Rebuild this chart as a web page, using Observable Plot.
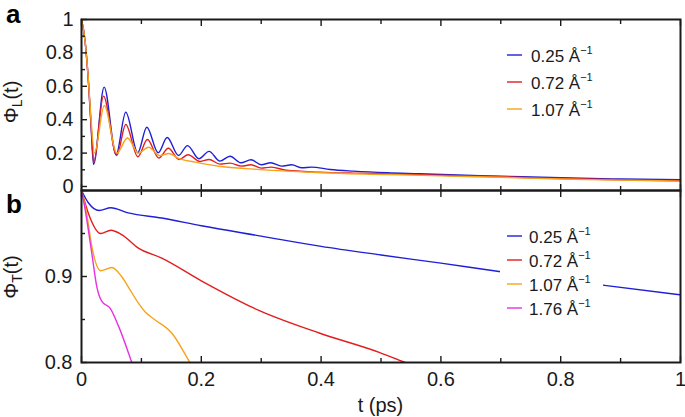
<!DOCTYPE html>
<html>
<head>
<meta charset="utf-8">
<script src="https://cdn.jsdelivr.net/npm/d3@7"></script>
<script src="https://cdn.jsdelivr.net/npm/@observablehq/plot@0.6"></script>
<style>
  body { margin: 0; background: #fff; }
  #wrap { position: relative; width: 685px; height: 417px; overflow: hidden; font-family: "Liberation Sans", Arial, sans-serif; }
  #wrap > .panel { position: absolute; left: 0; }
  #overlay { position: absolute; left: 0; top: 0; pointer-events: none; }
</style>
</head>
<body>
<div id="wrap"></div>
<script>
// ---------- data ----------
const qLabels = ["0.25", "0.72", "1.07", "1.76"];
const qColors = ["#1f1fd8", "#e31d1d", "#f7a21b", "#e632e0"];

// Panel a : longitudinal correlation Φ_L(t)  [t (ps), value]
const longQ025 = [[0,1],[0.006,0.87],[0.0117,0.62],[0.016,0.36],[0.020,0.132],[0.0378,0.595],[0.0578,0.19],[0.0739,0.445],[0.0939,0.202],[0.109,0.355],[0.128,0.202],[0.143,0.293],[0.162,0.186],[0.177,0.245],[0.196,0.166],[0.213,0.21],[0.231,0.152],[0.248,0.181],[0.266,0.142],[0.283,0.16],[0.300,0.13],[0.316,0.142],[0.334,0.122],[0.351,0.13],[0.368,0.112],[0.384,0.116],[0.415,0.102],[0.454,0.092],[0.51,0.082],[0.565,0.076],[0.615,0.07],[0.7,0.062],[0.8,0.052],[0.9,0.045],[1.0,0.04]];
const longQ072 = [[0,1],[0.006,0.87],[0.0117,0.62],[0.016,0.37],[0.0205,0.145],[0.0367,0.541],[0.0589,0.186],[0.0739,0.371],[0.094,0.178],[0.110,0.281],[0.129,0.170],[0.145,0.229],[0.163,0.162],[0.178,0.19],[0.198,0.15],[0.213,0.162],[0.231,0.134],[0.248,0.14],[0.267,0.122],[0.283,0.13],[0.300,0.11],[0.317,0.116],[0.342,0.097],[0.398,0.086],[0.454,0.08],[0.51,0.076],[0.615,0.066],[0.7,0.058],[0.8,0.048],[0.9,0.04],[1.0,0.034]];
const longQ107 = [[0,1],[0.006,0.87],[0.0117,0.63],[0.016,0.4],[0.0217,0.2],[0.038,0.485],[0.059,0.2],[0.0767,0.29],[0.095,0.2],[0.112,0.235],[0.131,0.185],[0.146,0.198],[0.162,0.168],[0.19,0.146],[0.232,0.12],[0.288,0.104],[0.344,0.092],[0.4,0.082],[0.51,0.072],[0.615,0.062],[0.7,0.055],[0.8,0.045],[0.9,0.038],[1.0,0.032]];

// Panel b : transverse correlation Φ_T(t)
const transQ025 = [[0,1],[0.0117,0.9855],[0.0294,0.9767],[0.0489,0.980],[0.078,0.974],[0.134,0.968],[0.2,0.959],[0.3,0.947],[0.4,0.935],[0.5,0.925],[0.6,0.9155],[0.7,0.9055],[0.87,0.89],[1.0,0.8787]];
const transQ072 = [[0,1],[0.0117,0.973],[0.032,0.950],[0.049,0.9537],[0.067,0.9487],[0.095,0.933],[0.134,0.9214],[0.2,0.895],[0.298,0.86],[0.398,0.834],[0.498,0.8115],[0.54,0.80],[0.56,0.795]];
const transQ107 = [[0,1],[0.0089,0.972],[0.0172,0.935],[0.032,0.9067],[0.0506,0.9105],[0.067,0.900],[0.078,0.888],[0.095,0.869],[0.106,0.859],[0.123,0.8495],[0.151,0.834],[0.181,0.80],[0.19,0.79]];
const transQ176 = [[0,1],[0.005,0.982],[0.0172,0.927],[0.0256,0.888],[0.034,0.871],[0.048,0.863],[0.062,0.842],[0.084,0.80],[0.09,0.788]];

// axis ticks
const tMajor = [0, 0.2, 0.4, 0.6, 0.8, 1];
const tMinor = [0.1, 0.3, 0.5, 0.7, 0.9];
const yMajorA = [0, 0.2, 0.4, 0.6, 0.8, 1];
const yMinorA = [0.1, 0.3, 0.5, 0.7, 0.9];
const yMajorB = [0.8, 0.9, 1.0];
const yLabelsB = [0.8, 0.9];
const yMinorB = [0.85, 0.95];

// ---------- build ----------
const toRows = (arr, q) => arr.map(([t, v]) => ({t, v, q}));
const rowsA = [...toRows(longQ025, "0.25"), ...toRows(longQ072, "0.72"), ...toRows(longQ107, "1.07")];
const rowsB = [...toRows(transQ025, "0.25"), ...toRows(transQ072, "0.72"), ...toRows(transQ107, "1.07"), ...toRows(transQ176, "1.76")];

const FONT = "Liberation Sans, Arial, Helvetica, sans-serif";
const INK = "#1a1a1a";
const FS = 20;
const fmt = d3.format("~g");
const common = {
  width: 685, marginLeft: 81, marginRight: 5,
  style: {fontFamily: FONT, fontSize: FS + "px", color: INK, background: "transparent", overflow: "visible"},
  x: {domain: [0, 1], label: null},
  color: {domain: qLabels, range: qColors}
};
const tickStyle = {stroke: INK, strokeWidth: 1.4, text: null, label: null};

const plotA = Plot.plot({
  ...common,
  height: 191, marginTop: 19, marginBottom: 1,
  y: {domain: [-0.024, 1], label: null},
  marks: [
    Plot.line(rowsA, {x: "t", y: "v", z: "q", stroke: "q", curve: "monotone-x", strokeWidth: 1.4}),
    Plot.axisY(yMajorA, {anchor: "left", tickSize: 0, tickPadding: 8, tickFormat: fmt, label: null, fontSize: FS}),
    Plot.axisY(yMajorA, {anchor: "left", tickSize: -6, ...tickStyle}),
    Plot.axisY(yMinorA, {anchor: "left", tickSize: -4, ...tickStyle}),
    Plot.axisX(tMajor, {anchor: "top", tickSize: -6, ...tickStyle}),
    Plot.axisX(tMinor, {anchor: "top", tickSize: -4, ...tickStyle}),
    Plot.axisX(tMajor, {anchor: "bottom", tickSize: -6, ...tickStyle}),
    Plot.axisX(tMinor, {anchor: "bottom", tickSize: -4, ...tickStyle}),
    Plot.frame({stroke: INK, strokeWidth: 2})
  ]
});

const plotB = Plot.plot({
  ...common,
  height: 228, marginTop: 1, marginBottom: 55,
  y: {domain: [0.8, 1.0], label: null},
  marks: [
    Plot.line(rowsB, {x: "t", y: "v", z: "q", stroke: "q", curve: "monotone-x", strokeWidth: 1.4, clip: true}),
    Plot.axisY(yLabelsB, {anchor: "left", tickSize: 0, tickPadding: 9, tickFormat: fmt, label: null, fontSize: FS}),
    Plot.axisY(yMajorB, {anchor: "left", tickSize: -6, ...tickStyle}),
    Plot.axisY(yMinorB, {anchor: "left", tickSize: -4, ...tickStyle}),
    Plot.axisX(tMajor, {anchor: "top", tickSize: -6, ...tickStyle}),
    Plot.axisX(tMinor, {anchor: "top", tickSize: -4, ...tickStyle}),
    Plot.axisX(tMajor, {anchor: "bottom", tickSize: -6, ...tickStyle}),
    Plot.axisX(tMinor, {anchor: "bottom", tickSize: -4, ...tickStyle}),
    Plot.axisX(tMajor, {anchor: "bottom", tickSize: 0, tickPadding: 9, tickFormat: fmt, label: null, fontSize: FS}),
    Plot.frame({stroke: INK, strokeWidth: 2})
  ]
});

const wrap = document.getElementById("wrap");
plotA.classList.add("panel"); plotA.style.top = "0px";
plotB.classList.add("panel"); plotB.style.top = "189px";
wrap.appendChild(plotA);
wrap.appendChild(plotB);

// ---------- overlay: panel letters, axis titles, legends ----------
const NS = "http://www.w3.org/2000/svg";
const ov = document.createElementNS(NS, "svg");
ov.setAttribute("id", "overlay");
ov.setAttribute("width", 685);
ov.setAttribute("height", 417);
ov.style.fontFamily = FONT;
wrap.appendChild(ov);

function el(tag, attrs, parent = ov) {
  const e = document.createElementNS(NS, tag);
  for (const k in attrs) e.setAttribute(k, attrs[k]);
  parent.appendChild(e);
  return e;
}
function txt(attrs, s, parent = ov) { const e = el("text", attrs, parent); e.textContent = s; return e; }

txt({x: 6, y: 23, "font-size": 26, "font-weight": "bold", fill: "#000"}, "a");
txt({x: 6, y: 213, "font-size": 26, "font-weight": "bold", fill: "#000"}, "b");

function yTitle(cy, sub) {
  const t = el("text", {transform: `translate(18,${cy}) rotate(-90)`, "text-anchor": "middle", "font-size": FS, fill: INK});
  const a = el("tspan", {}, t); a.textContent = "Φ";
  const b = el("tspan", {"font-size": 14, dy: 4}, t); b.textContent = sub;
  const c = el("tspan", {dy: -4}, t); c.textContent = "(t)";
}
yTitle(102, "L");
yTitle(277, "T");
txt({x: 380.5, y: 412, "text-anchor": "middle", "font-size": FS, fill: INK}, "t (ps)");

function legend(rows, lineYs, textX, box) {
  if (box) el("rect", {...box, fill: "#fff"});
  rows.forEach((q, i) => {
    const y = lineYs[i];
    el("line", {x1: 507, x2: 522, y1: y, y2: y, stroke: qColors[qLabels.indexOf(q)], "stroke-width": 1.4});
    const t = el("text", {x: textX, y: y + 6.5, "font-size": 17, fill: INK});
    const a = el("tspan", {}, t); a.textContent = q + " Å";
    const b = el("tspan", {"font-size": 11, dy: -8}, t); b.textContent = "−1";
  });
}
legend(["0.25", "0.72", "1.07"], [55, 82, 109], 531, null);
legend(["0.25", "0.72", "1.07", "1.76"], [236, 260, 284, 308], 529, {x: 500, y: 222, width: 103, height: 98});
</script>
</body>
</html>
